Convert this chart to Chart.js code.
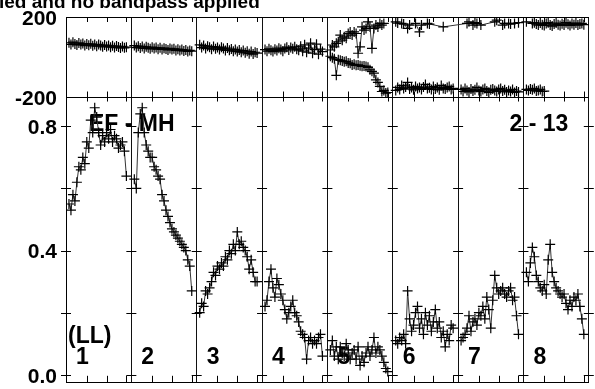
<!DOCTYPE html>
<html>
<head>
<meta charset="utf-8">
<script src="https://cdn.jsdelivr.net/npm/chart.js@4.4.1/dist/chart.umd.min.js"></script>
<style>
  html, body { margin: 0; padding: 0; background: #fff; }
  canvas { display: block; }
</style>
</head>
<body>
<canvas id="possm" width="595" height="389"></canvas>
<script>
// POSSM style spectrum: 8 IFs, 30 channels each
const ifLabels = ['1', '2', '3', '4', '5', '6', '7', '8'];
const titleText = 'ied and no bandpass applied';
const baselineLabel = 'EF - MH';
const ifPairLabel = '2 - 13';
const polLabel = '(LL)';

const ampTickValues = [0.0, 0.4, 0.8];
const ampMinorTicks = [0.0, 0.2, 0.4, 0.6, 0.8];
const phaseTickValues = [-200, 0, 200];

// amplitude per IF
const ampByIF = [
  [0.55,0.53,0.58,0.56,0.62,0.67,0.66,0.70,0.68,0.75,0.73,0.82,0.78,0.86,0.83,0.78,0.74,0.77,0.75,0.78,0.76,0.79,0.75,0.77,0.76,0.73,0.74,0.75,0.72,0.64],
  [0.63,0.60,0.78,0.84,0.86,0.78,0.74,0.72,0.70,0.70,0.67,0.66,0.64,0.63,0.58,0.56,0.53,0.51,0.49,0.47,0.46,0.45,0.44,0.43,0.42,0.41,0.40,0.37,0.35,0.27],
  [0.20,0.23,0.22,0.27,0.26,0.28,0.30,0.33,0.32,0.35,0.34,0.36,0.35,0.38,0.37,0.40,0.39,0.42,0.40,0.46,0.42,0.43,0.41,0.40,0.38,0.34,0.37,0.33,0.30,0.30],
  [0.22,0.24,0.30,0.34,0.28,0.25,0.31,0.29,0.26,0.24,0.21,0.18,0.20,0.22,0.24,0.20,0.19,0.17,0.14,0.13,0.12,0.05,0.11,0.12,0.10,0.11,0.10,0.12,0.13,0.06],
  [0.08,0.11,0.06,0.09,0.05,0.09,0.07,0.06,0.10,0.08,0.05,0.07,0.08,0.05,0.09,0.03,0.06,0.04,0.07,0.09,0.06,0.08,0.12,0.07,0.09,0.08,0.06,0.04,0.02,0.01],
  [0.11,0.10,0.12,0.11,0.13,0.10,0.27,0.18,0.14,0.16,0.20,0.22,0.15,0.18,0.13,0.20,0.16,0.19,0.14,0.17,0.21,0.15,0.17,0.12,0.14,0.09,0.13,0.11,0.16,0.15],
  [0.11,0.12,0.13,0.15,0.19,0.14,0.17,0.18,0.16,0.20,0.19,0.22,0.18,0.25,0.21,0.15,0.24,0.32,0.28,0.26,0.27,0.28,0.26,0.25,0.27,0.28,0.24,0.25,0.19,0.13],
  [0.33,0.30,0.36,0.41,0.38,0.32,0.30,0.28,0.27,0.29,0.26,0.37,0.42,0.33,0.30,0.28,0.27,0.26,0.25,0.26,0.23,0.21,0.24,0.22,0.25,0.24,0.26,0.22,0.18,0.13]
];

// phase (deg), the branch that wraps to +180
const phaseUpperByIF = [
  [72,64,75,66,61,71,63,68,58,66,60,67,57,63,55,64,58,52,61,54,59,50,57,48,56,51,46,54,47,50],
  [58,48,55,46,54,44,52,47,42,50,43,48,40,47,39,45,41,36,44,38,42,34,40,33,38,31,36,29,34,30],
  [62,48,58,44,55,50,40,53,42,49,38,50,44,34,46,35,41,30,39,28,36,25,33,22,30,18,28,16,25,21],
  [38,30,42,35,28,40,33,45,38,30,44,50,36,48,42,52,40,35,55,30,62,25,45,70,20,38,65,15,40,28],
  [36,61,52,69,77,110,85,102,95,118,126,110,126,118,20,52,151,135,143,176,151,44,143,160,150,168,160,168,null,null],
  [176,170,null,168,165,null,143,160,null,null,168,null,126,160,null,null,168,165,null,null,null,null,null,null,151,null,null,null,null,null],
  [null,null,null,168,176,null,160,172,168,null,160,null,null,null,null,null,null,176,184,null,null,160,168,null,168,165,null,168,null,172],
  [176,null,null,168,172,165,160,170,162,158,168,172,160,155,165,170,162,158,166,160,172,164,158,168,162,170,160,165,168,162]
];

// phase (deg), the branch that wraps to -180
const phaseLowerByIF = [
  null, null, null, null,
  [5,-2,-8,-90,-12,-15,-18,-22,-20,-28,-30,-38,-35,-40,-38,-42,-45,-44,-46,-50,-62,-70,-79,-112,-125,-145,-170,-165,-178,-175],
  [-165,-150,-160,-140,-155,-148,-125,-158,-150,-162,-145,-155,-150,-160,-148,-135,-155,-152,-160,-145,-158,-150,-162,-140,-155,-158,-150,-145,-160,-155],
  [-160,-170,-155,-165,-172,-158,-168,-162,-150,-165,-170,-160,-155,-168,-175,-162,-158,-165,-170,-160,-155,-168,-162,-172,-165,-170,-160,-175,-168,-172],
  [-160,-165,-158,-162,-155,-168,-165,-160,-170,-168,null,null,null,null,null,null,null,null,null,null,null,null,null,null,null,null,null,null,null,null]
];

const IF_WIDTH = 33;      // channel slots per IF box on the x axis
const AMP_MIN = -0.026, AMP_MAX = 0.893;
const FONT = '"Liberation Sans", Arial, sans-serif';

const dividers = ifLabels.map((l, i) => i * IF_WIDTH - 0.5).concat([ifLabels.length * IF_WIDTH - 0.5]);
let minorTicks = [];
ifLabels.forEach((l, i) => { minorTicks.push(i * IF_WIDTH + 10, i * IF_WIDTH + 20, i * IF_WIDTH + 30); });

function toPoints(byIF) {
  let pts = [];
  byIF.forEach((vals, i) => {
    if (vals == null) return;
    vals.forEach((v, c) => pts.push({x: i * IF_WIDTH + c + 1, y: v}));
  });
  return pts;
}
function ifOf(x) { return Math.floor((x + 0.5) / IF_WIDTH); }

// no line from one IF box to the next
const splitIFs = {
  borderColor: ctx => ifOf(ctx.p0.parsed.x) !== ifOf(ctx.p1.parsed.x) ? 'rgba(0,0,0,0)' : undefined
};

function series(data, axis) {
  return {
    data: data,
    yAxisID: axis,
    borderColor: '#333',
    borderWidth: 1,
    pointStyle: 'cross',
    pointRadius: 5,
    pointBorderWidth: 1.2,
    pointBorderColor: '#000',
    pointBackgroundColor: 'rgba(0,0,0,0)',
    spanGaps: true,
    segment: splitIFs
  };
}

// keep the y axes from reserving room for half-label overhang
function fitLeftAxis(s) {
  s.width = 66;
  s.paddingTop = 0;
  s.paddingBottom = 0;
}

const annotations = {
  id: 'annotations',
  beforeDatasetsDraw(chart) {
    const {ctx, scales: {x, yAmp}} = chart;
    ctx.save();
    ctx.fillStyle = '#000';
    ctx.textAlign = 'left';
    ctx.textBaseline = 'alphabetic';
    ctx.font = 'bold 19px ' + FONT;
    ctx.fillText(titleText, -1, 8);
    ctx.font = 'bold 23px ' + FONT;
    ctx.fillText(baselineLabel, x.getPixelForValue(dividers[0]) + 23, yAmp.top + 33);
    ctx.fillText(ifPairLabel, x.getPixelForValue(dividers[7]) - 14, yAmp.top + 33);
    ctx.fillText(polLabel, x.getPixelForValue(dividers[0]) + 2, 343);
    ifLabels.forEach((t, i) => ctx.fillText(t, x.getPixelForValue(dividers[i]) + 10, 364));
    ctx.restore();
  }
};

// inward tick marks like the AIPS plot frame
const inwardTicks = {
  id: 'inwardTicks',
  afterDatasetsDraw(chart) {
    const {ctx, scales: {x, yAmp, yPh}} = chart;
    ctx.save();
    ctx.strokeStyle = '#000';
    ctx.lineWidth = 1;
    ctx.beginPath();
    minorTicks.forEach(v => {
      const px = Math.round(x.getPixelForValue(v)) + 0.5;
      ctx.moveTo(px, yPh.top); ctx.lineTo(px, yPh.top + 5);
      ctx.moveTo(px, yAmp.top - 6); ctx.lineTo(px, yAmp.top + 4);
      ctx.moveTo(px, yAmp.bottom); ctx.lineTo(px, yAmp.bottom - 7);
    });
    dividers.forEach(v => {
      const px = x.getPixelForValue(v);
      ampMinorTicks.forEach(t => {
        const py = Math.round(yAmp.getPixelForValue(t)) + 0.5;
        ctx.moveTo(px - 5, py); ctx.lineTo(px + 5, py);
      });
    });
    ctx.stroke();
    ctx.restore();
  }
};

const tickFont = {family: FONT, size: 21, weight: 'bold'};

const possm_config = {
  type: 'line',
  data: {
    datasets: [
      series(toPoints(ampByIF), 'yAmp'),
      series(toPoints(phaseUpperByIF), 'yPh'),
      series(toPoints(phaseLowerByIF), 'yPh')
    ]
  },
  options: {
    responsive: false,
    animation: false,
    devicePixelRatio: 1,
    layout: {padding: {top: 17, left: 0, right: 0, bottom: 0}},
    plugins: {legend: {display: false}, tooltip: {enabled: false}, title: {display: false}},
    scales: {
      x: {
        type: 'linear',
        position: 'bottom',
        min: dividers[0],
        max: dividers[dividers.length - 1],
        afterBuildTicks: s => { s.ticks = dividers.map(v => ({value: v})); },
        afterFit: s => { s.height = 4; s.paddingLeft = 0; s.paddingRight = 0; },
        ticks: {display: false},
        grid: {color: '#111', lineWidth: 1, drawTicks: false},
        border: {color: '#000'}
      },
      yAmp: {
        type: 'linear',
        position: 'left',
        stack: 'panels',
        stackWeight: 287,
        min: AMP_MIN,
        max: AMP_MAX,
        afterBuildTicks: s => { s.ticks = ampTickValues.map(v => ({value: v})); },
        afterFit: fitLeftAxis,
        ticks: {color: '#000', font: tickFont, padding: 9, labelOffset: 2, callback: v => v.toFixed(1)},
        grid: {drawOnChartArea: false, drawTicks: false},
        border: {color: '#000'}
      },
      yPh: {
        type: 'linear',
        position: 'left',
        stack: 'panels',
        stackWeight: 81,
        min: -200,
        max: 200,
        afterBuildTicks: s => { s.ticks = phaseTickValues.map(v => ({value: v})); },
        afterFit: fitLeftAxis,
        ticks: {color: '#000', font: tickFont, padding: 9, labelOffset: 2, callback: v => v === 0 ? '' : String(v)},
        grid: {color: '#000', lineWidth: 1, drawTicks: false},
        border: {color: '#000'}
      }
    }
  },
  plugins: [annotations, inwardTicks]
};

var possmChart = new Chart(document.getElementById('possm'), possm_config);
</script>
</body>
</html>
